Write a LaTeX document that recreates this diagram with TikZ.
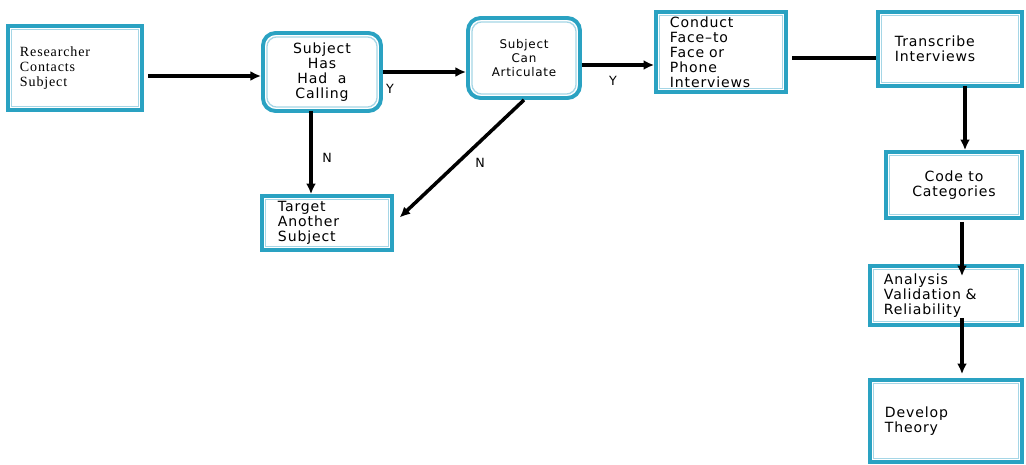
\documentclass[tikz,border=0pt]{standalone}
\usepackage{fontspec}
\usepackage{xcolor}
\usepackage{tikz}
\usetikzlibrary{arrows.meta, positioning}

\newfontfamily\boxsans[LetterSpace=6]{DejaVu Sans}
\newfontfamily\boxserif[LetterSpace=6]{Liberation Serif}
\definecolor{boxblue}{RGB}{42,162,194}
\definecolor{boxinner}{RGB}{165,214,230}

\tikzset{
  stepbox/.style={draw=boxblue, line width=2.6pt, fill=white, inner sep=0pt,
    font=\boxsans\fontsize{10}{10.7}\selectfont,
    path picture={\draw[boxinner, line width=0.9pt]
      ([shift={(2.6pt,2.6pt)}]path picture bounding box.south west) rectangle
      ([shift={(-2.6pt,-2.6pt)}]path picture bounding box.north east);}},
  roundbox/.style={draw=boxblue, line width=2.8pt, fill=white, inner sep=0pt,
    rounded corners=9pt, align=center,
    font=\boxsans\fontsize{10}{10.7}\selectfont,
    path picture={\draw[boxinner, line width=0.9pt, rounded corners=7pt]
      ([shift={(2.8pt,2.8pt)}]path picture bounding box.south west) rectangle
      ([shift={(-2.8pt,-2.8pt)}]path picture bounding box.north east);}},
  link/.style={line width=2.5pt},
  yn/.style={font=\boxsans\fontsize{9}{10}\selectfont}
}

\begin{document}
\begin{tikzpicture}[x=0.025cm, y=-0.025cm, >={Latex[length=7.5pt,width=7pt]}]
    \useasboundingbox (0,0) rectangle (1026,465);

    % Kaestchen
    \node[stepbox, minimum width=3.35cm, minimum height=2.1cm, text width=2.75cm, align=left,
        font=\boxserif\fontsize{10}{10.7}\selectfont] (res) at (75,68) {Researcher\\Contacts\\Subject};
    \node[roundbox, minimum width=2.95cm, minimum height=1.95cm] (call) at (322,72) {Subject\\Has\\Had\ \ a\\Calling};
    \node[roundbox, minimum width=2.8cm, minimum height=2cm,
        font=\boxsans\fontsize{8.5}{10}\selectfont] (art) at (524,58) {Subject\\Can\\Articulate};
    \node[stepbox, minimum width=3.25cm, minimum height=2cm, text width=2.55cm, align=left] (cond) at (721,52)
        {Conduct\\Face–to\\Face or\\Phone\\Interviews};
    \node[stepbox, minimum width=3.6cm, minimum height=1.85cm, text width=2.75cm, align=left] (tra) at (950,49)
        {Transcribe\\Interviews};
    \node[stepbox, minimum width=3.4cm, minimum height=1.65cm, align=center] (code) at (954,185) {Code to\\Categories};
    \node[stepbox, minimum width=3.8cm, minimum height=1.475cm, text width=3.1cm, align=left] (ana) at (946,295.5)
        {Analysis\\Validation \&\\Reliability};
    \node[stepbox, minimum width=3.8cm, minimum height=2.05cm, text width=3.05cm, align=left] (dev) at (946,421)
        {Develop\\Theory};
    \node[stepbox, minimum width=3.25cm, minimum height=1.35cm, text width=2.45cm, align=left] (tgt) at (327,223)
        {Target\\Another\\Subject};

    % Verbindungen
    \coordinate (r1) at (148,76);
    \coordinate (a1) at ([yshift=-0.175cm]art.east);
    \coordinate (c1) at (792,58);
    \coordinate (t1) at (965,86);
    \coordinate (k1) at (962,222);
    \coordinate (n1) at (962,318);
    \coordinate (s1) at (311,111);

    \draw[->, link] (r1) -- (r1 -| call.west);
    \draw[->, link] (call.east) -- (call.east -| art.west);
    \draw[->, link] (a1) -- (a1 -| cond.west);
    \draw[link] (c1) -- (c1 -| tra.west);
    \draw[->, link] (t1) -- (t1 |- code.north);
    \draw[->, link, shorten >=-0.3cm] (k1) -- (k1 |- ana.north);
    \draw[->, link, shorten >=0.1cm] (n1) -- (n1 |- dev.north);
    \draw[->, link] (s1) -- (s1 |- tgt.north);
    \draw[->, link, shorten >=0.2cm] (art.south) -- (tgt.east);

    % J/N
    \node[yn] (y1) at (390,89) {Y};
    \node[yn] (y2) at (613,81) {Y};
    \node[yn] (n1l) at (327,158) {N};
    \node[yn] (n2l) at (480,163) {N};
\end{tikzpicture}
\end{document}
